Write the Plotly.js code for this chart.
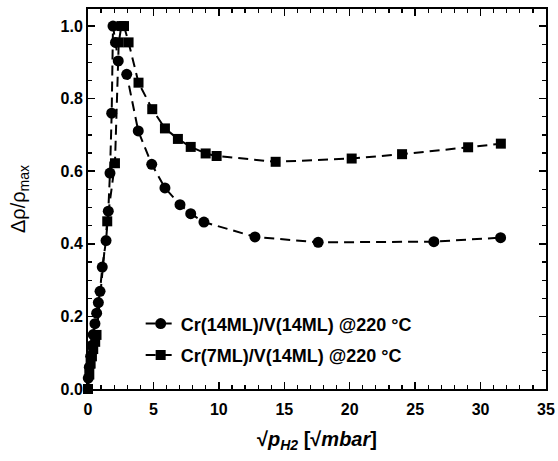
<!DOCTYPE html>
<html>
<head>
<meta charset="utf-8">
<script src="https://cdn.plot.ly/plotly-3.0.1.min.js"></script>
<style>html,body{margin:0;padding:0;background:#fff;}#chart{width:558px;height:461px;}</style>
</head>
<body>
<div id="chart"></div>
<script>
// Cr(14ML)/V(14ML) @220 °C (circles)
const circleX = [0.02, 0.1, 0.2, 0.3, 0.4, 0.53, 0.66, 0.79, 0.92, 1.09, 1.38, 1.55, 1.68, 1.81, 1.91, 2.1, 2.31, 2.96, 3.84, 4.87, 5.88, 7.03, 7.85, 8.86, 12.76, 17.59, 26.43, 31.53];
const circleY = [0.03, 0.06, 0.09, 0.12, 0.15, 0.18, 0.209, 0.238, 0.269, 0.336, 0.409, 0.49, 0.595, 0.76, 1.0, 0.955, 0.904, 0.867, 0.711, 0.619, 0.554, 0.508, 0.483, 0.46, 0.419, 0.404, 0.406, 0.417];
// Cr(7ML)/V(14ML) @220 °C (squares)
const squareX = [0.0, 0.1, 0.2, 0.3, 0.4, 0.55, 0.65, 1.47, 2.06, 2.35, 2.55, 2.75, 3.1, 3.86, 4.91, 5.88, 6.87, 7.85, 8.99, 9.83, 14.34, 20.15, 24.0, 29.05, 31.55];
const squareY = [0.0, 0.04, 0.07, 0.09, 0.11, 0.13, 0.149, 0.462, 0.622, 0.955, 1.0, 1.0, 0.955, 0.844, 0.771, 0.718, 0.689, 0.667, 0.649, 0.642, 0.626, 0.635, 0.647, 0.666, 0.676];
const seriesNames = ["Cr(14ML)/V(14ML) @220 °C", "Cr(7ML)/V(14ML) @220 °C"];
const xTickVals = [0, 5, 10, 15, 20, 25, 30, 35];
const yTickVals = [0.0, 0.2, 0.4, 0.6, 0.8, 1.0];
const yTickText = ["0.0", "0.2", "0.4", "0.6", "0.8", "1.0"];

const FONT = "Liberation Sans, Arial, sans-serif";
const lineStyle = {color: "#000", width: 2, dash: "10px,6px"};

const traces = [
  {x: circleX, y: circleY, name: seriesNames[0], legendgroup: "a", mode: "lines+markers", type: "scatter",
   line: lineStyle, marker: {symbol: "circle", size: 11, color: "#000"}, cliponaxis: false},
  {x: squareX, y: squareY, name: seriesNames[1], legendgroup: "b", mode: "lines+markers", type: "scatter",
   line: lineStyle, marker: {symbol: "square", size: 10, color: "#000"}, cliponaxis: false}
];

const axisCommon = {
  showline: true, linecolor: "#000", linewidth: 2, mirror: "ticks",
  ticks: "inside", ticklen: 7, tickwidth: 1.5, tickcolor: "#000",
  showgrid: false, zeroline: false,
  tickfont: {family: FONT, size: 16, color: "#000", weight: "bold"}
};

const layout = {
  width: 558, height: 461,
  margin: {l: 88, r: 12, t: 9, b: 72},
  paper_bgcolor: "#fff", plot_bgcolor: "#fff",
  showlegend: true,
  legend: {x: 0.115, y: 0.22, xanchor: "left", yanchor: "top", bgcolor: "rgba(0,0,0,0)",
           traceorder: "grouped", tracegroupgap: 5,
           font: {family: FONT, size: 18, color: "#000", weight: "bold"}, itemwidth: 30},
  xaxis: Object.assign({}, axisCommon, {
    range: [0, 35], tickvals: xTickVals, ticktext: xTickVals.map(String), ticklabelstandoff: 5,
    minor: {dtick: 1, ticks: "inside", ticklen: 4, tickwidth: 1.2, tickcolor: "#000", showgrid: false},
    title: {text: "√<i>p</i><sub><i>H2</i></sub> [√<i>mbar</i>]", standoff: 15,
            font: {family: FONT, size: 20, color: "#000", weight: "bold"}}
  }),
  yaxis: Object.assign({}, axisCommon, {
    range: [0, 1.047], tickvals: yTickVals, ticktext: yTickText,
    minor: {dtick: 0.05, ticks: "inside", ticklen: 4, tickwidth: 1.2, tickcolor: "#000", showgrid: false},
    title: {text: "Δρ/ρ<sub>max</sub>", standoff: 30,
            font: {family: FONT, size: 20, color: "#000"}}
  })
};

Plotly.newPlot("chart", traces, layout, {displayModeBar: false, staticPlot: true});
</script>
</body>
</html>
